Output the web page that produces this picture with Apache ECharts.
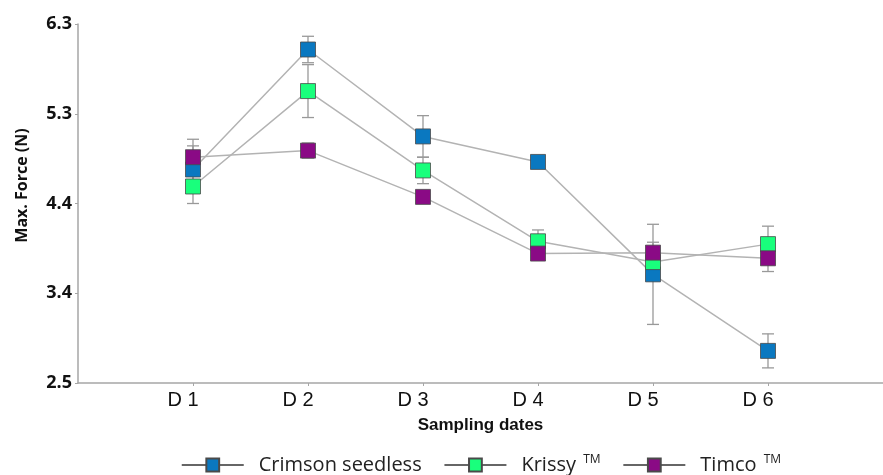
<!DOCTYPE html>
<html>
<head>
<meta charset="utf-8">
<script src="https://cdn.jsdelivr.net/npm/echarts@6/dist/echarts.min.js"></script>
<style>
  html, body { margin: 0; padding: 0; background: #fff; }
  #chart { width: 883px; height: 475px; }
</style>
</head>
<body>
<div id="chart"></div>
<script>
// sampling dates
var categories = ['D 1', 'D 2', 'D 3', 'D 4', 'D 5', 'D 6']
// y ticks are evenly spaced, labels as printed in the figure
var yTickValues = [2.5, 3.45, 4.4, 5.35, 6.3]
var yTickLabels = ['2.5', '3.4', '4.4', '5.3', '6.3']

// means (N)
var crimsonMean = [4.76, 6.03, 5.11, 4.84, 3.65, 2.84]
var krissyMean = [4.58, 5.59, 4.75, 4.0, 3.78, 3.97]
var timcoMean = [4.89, 4.96, 4.47, 3.87, 3.88, 3.82]
// error bar half widths
var crimsonErr = [0.25, 0.14, 0.22, 0.04, 0.53, 0.18]
var krissyErr = [0.18, 0.28, 0.14, 0.12, 0.06, 0.19]
var timcoErr = [0.19, 0.08, 0.05, 0.04, 0.11, 0.14]

var seriesNames = ['Crimson seedless', 'Krissy {sup|TM}', 'Timco {sup|TM}']
var colors = ['#0a78c0', '#19ff7c', '#8a0a85']

var chart = echarts.init(document.getElementById('chart'))

function lineSeries(name, means, color) {
  return {
    name: name,
    type: 'line',
    data: means.map(function (v, i) { return [i + 1, v] }),
    symbol: 'rect',
    symbolSize: 15,
    lineStyle: { color: '#b3b3b3', width: 1.5 },
    itemStyle: { color: color, borderColor: '#4a4a4a', borderWidth: 0.8 },
    z: 3
  }
}

function errorSeries(means, errs) {
  return {
    type: 'custom',
    silent: true,
    z: 2,
    data: means.map(function (v, i) { return [i + 1, v - errs[i], v + errs[i]] }),
    renderItem: function (params, api) {
      var lo = api.coord([api.value(0), api.value(1)])
      var hi = api.coord([api.value(0), api.value(2)])
      var w = 6
      var style = { stroke: '#999', lineWidth: 1.3 }
      return {
        type: 'group',
        children: [
          { type: 'line', shape: { x1: lo[0], y1: lo[1], x2: hi[0], y2: hi[1] }, style: style },
          { type: 'line', shape: { x1: lo[0] - w, y1: lo[1], x2: lo[0] + w, y2: lo[1] }, style: style },
          { type: 'line', shape: { x1: hi[0] - w, y1: hi[1], x2: hi[0] + w, y2: hi[1] }, style: style }
        ]
      }
    }
  }
}

// label for the nearest tick value
function yLabel(v) {
  var best = 0
  yTickValues.forEach(function (t, i) {
    if (Math.abs(t - v) < Math.abs(yTickValues[best] - v)) best = i
  })
  return yTickLabels[best]
}

var option = {
  animation: false,
  grid: { left: 78, right: 0, top: 24, bottom: 92 },
  xAxis: {
    type: 'value',
    min: 0,
    max: 7,
    interval: 1,
    name: 'Sampling dates',
    nameLocation: 'middle',
    nameGap: 34,
    nameTextStyle: { fontFamily: 'Liberation Sans', fontWeight: 'bold', fontSize: 17, color: '#111' },
    axisLine: { lineStyle: { color: '#a6a6a6', width: 1.5 } },
    axisTick: { show: true, length: 3, lineStyle: { color: '#a6a6a6' }, customValues: [1, 2, 3, 4, 5, 6] },
    splitLine: { show: false },
    axisLabel: {
      customValues: [1, 2, 3, 4, 5, 6],
      fontFamily: 'Liberation Sans',
      fontSize: 20,
      color: '#111',
      margin: 7,
      padding: [0, 20, 0, 0],
      formatter: function (v) { return categories[Math.round(v) - 1] || '' }
    }
  },
  yAxis: {
    type: 'value',
    min: 2.5,
    max: 6.3,
    name: 'Max. Force (N)',
    nameLocation: 'middle',
    nameGap: 48,
    nameTextStyle: { fontFamily: 'Open Sans', fontWeight: 'bold', fontSize: 16, color: '#111', padding: [0, 0, 0, 36] },
    axisLine: { show: true, lineStyle: { color: '#a6a6a6', width: 1.5 } },
    axisTick: { show: true, length: 3, lineStyle: { color: '#a6a6a6' }, customValues: yTickValues },
    splitLine: { show: false },
    axisLabel: {
      customValues: yTickValues,
      fontFamily: 'Open Sans',
      fontWeight: 'bold',
      fontSize: 18,
      color: '#111',
      margin: 6,
      formatter: yLabel
    }
  },
  legend: {
    top: 449,
    left: 176,
    itemWidth: 62,
    itemHeight: 16,
    itemGap: 22,
    lineStyle: { color: '#333', width: 1.5 },
    textStyle: {
      fontFamily: 'Open Sans',
      fontSize: 20,
      color: '#222',
      padding: [0, 0, 0, 10],
      rich: { sup: { fontSize: 12, verticalAlign: 'top', padding: [0, 0, 10, 2], fontFamily: 'Open Sans', color: '#222' } }
    },
    data: seriesNames
  },
  series: [
    errorSeries(crimsonMean, crimsonErr),
    errorSeries(krissyMean, krissyErr),
    errorSeries(timcoMean, timcoErr),
    lineSeries(seriesNames[0], crimsonMean, colors[0]),
    lineSeries(seriesNames[1], krissyMean, colors[1]),
    lineSeries(seriesNames[2], timcoMean, colors[2])
  ]
}

chart.setOption(option)
</script>
</body>
</html>
